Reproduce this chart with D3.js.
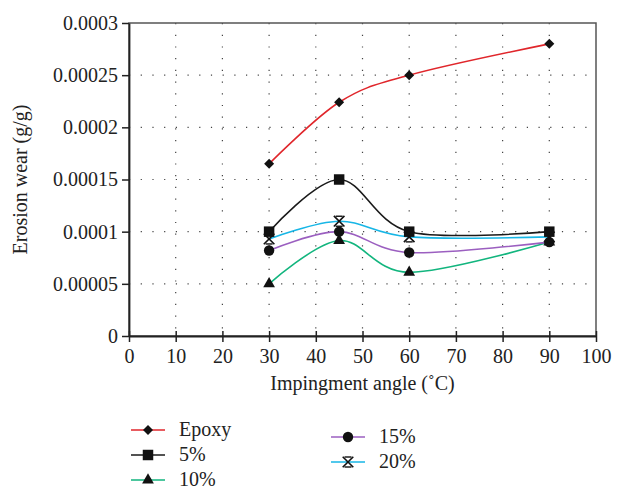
<!DOCTYPE html>
<html>
<head>
<meta charset="utf-8">
<script src="https://cdn.jsdelivr.net/npm/d3@7"></script>
<style>
  body { margin: 0; background: #fff; }
  text { font-family: "Liberation Serif", "Times New Roman", "DejaVu Serif", serif; }
</style>
</head>
<body>
<svg width="617" height="490"></svg>
<script>
// Data
const angles = [30, 45, 60, 90];
const seriesNames = ['Epoxy', '5%', '10%', '15%', '20%'];
const epoxy = [0.000165, 0.000224, 0.00025, 0.00028];
const pct5 = [0.0001, 0.00015, 0.0001, 0.0001];
const pct10 = [0.00005, 0.0000915, 0.000061, 0.00009];
const pct15 = [0.000082, 0.0001, 0.00008, 0.00009];
const pct20 = [0.000093, 0.00011, 0.000095, 0.000095];
const xTicks = [0, 10, 20, 30, 40, 50, 60, 70, 80, 90, 100];
const yTicks = [0, 0.00005, 0.0001, 0.00015, 0.0002, 0.00025, 0.0003];
const yTickLabels = ['0', '0.00005', '0.0001', '0.00015', '0.0002', '0.00025', '0.0003'];

const colors = ['#e0262b', '#1a1a1a', '#12b57e', '#9b5fc0', '#17b6e6'];
const markers = ['diamond', 'square', 'triangle', 'circle', 'star'];
const seriesValues = [epoxy, pct5, pct10, pct15, pct20];

const svg = d3.select('svg');
const margin = { top: 23, right: 21, bottom: 154, left: 129 };
const width = +svg.attr('width');
const height = +svg.attr('height');
const inner_width = width - margin.left - margin.right;
const inner_height = height - margin.top - margin.bottom;
const fontFam = '"Liberation Serif", "Times New Roman", serif';

const x = d3.scaleLinear().domain([0, 100]).range([0, inner_width]);
const y = d3.scaleLinear().domain([0, 0.0003]).range([inner_height, 0]);

const g = svg.append('g').attr('transform', `translate(${margin.left},${margin.top})`);

// Dotted grid
g.append('g').selectAll('line')
    .data(xTicks.slice(1, -1))
    .enter().append('line')
    .attr('x1', d => x(d)).attr('x2', d => x(d))
    .attr('y1', 0).attr('y2', inner_height)
    .attr('stroke', '#444').attr('stroke-width', 1.2)
    .attr('stroke-dasharray', '1.2,10.5');
g.append('g').selectAll('line')
    .data(yTicks.slice(1, -1))
    .enter().append('line')
    .attr('x1', 0).attr('x2', inner_width)
    .attr('y1', d => y(d)).attr('y2', d => y(d))
    .attr('stroke', '#444').attr('stroke-width', 1.2)
    .attr('stroke-dasharray', '1.2,10.5');

// Frame
g.append('rect')
    .attr('x', 0).attr('y', 0)
    .attr('width', inner_width).attr('height', inner_height)
    .attr('fill', 'none').attr('stroke', '#555').attr('stroke-width', 1.5);

// Axes
const xAxis = g.append('g')
    .attr('transform', `translate(0,${inner_height})`)
    .call(d3.axisBottom(x).tickValues(xTicks).tickSize(6).tickSizeOuter(0).tickPadding(7));
xAxis.selectAll('.tick line').attr('y1', -5).attr('stroke', '#222').attr('stroke-width', 1.5);
const yAxis = g.append('g')
    .call(d3.axisLeft(y).tickValues(yTicks).tickFormat((d, i) => yTickLabels[i]).tickSize(7).tickSizeOuter(0).tickPadding(4));
yAxis.selectAll('.tick line').attr('stroke', '#222').attr('stroke-width', 1.5);
[xAxis, yAxis].forEach(a => {
    a.attr('font-family', fontFam);
    a.select('.domain').attr('stroke', '#222').attr('stroke-width', 1.8);
    a.selectAll('text')
        .style('font-size', '20px')
        .attr('fill', '#222');
});

// Axis titles
svg.append('text')
    .attr('x', margin.left + inner_width / 2)
    .attr('y', 390)
    .attr('text-anchor', 'middle')
    .attr('font-size', '20px')
    .attr('fill', '#222')
    .text('Impingment angle (\u02DAC)');
svg.append('text')
    .attr('transform', `translate(27,${margin.top + inner_height / 2}) rotate(-90)`)
    .attr('text-anchor', 'middle')
    .attr('font-size', '20px')
    .attr('fill', '#222')
    .text('Erosion wear (g/g)');

// Marker drawing
const symbolFor = {
    diamond: d3.symbol().type(d3.symbolSquare).size(50),
    square: d3.symbol().type(d3.symbolSquare).size(110),
    triangle: d3.symbol().type(d3.symbolTriangle).size(60),
    circle: d3.symbol().type(d3.symbolCircle).size(85),
    star: d3.symbol().type(d3.symbolTimes).size(75)
};
const drawMarker = (sel, kind, cx, cy) => {
    const p = sel.append('path')
        .attr('d', symbolFor[kind]())
        .attr('transform', `translate(${cx},${cy})` + (kind === 'diamond' ? ' rotate(45)' : ''));
    if (kind === 'star') {
        p.attr('fill', 'none').attr('stroke', '#111').attr('stroke-width', 1.6);
        sel.append('line')
            .attr('x1', cx - 3.5).attr('x2', cx + 3.5)
            .attr('y1', cy - 5).attr('y2', cy - 5)
            .attr('stroke', '#111').attr('stroke-width', 1.4);
        sel.append('line')
            .attr('x1', cx - 3.5).attr('x2', cx + 3.5)
            .attr('y1', cy + 5).attr('y2', cy + 5)
            .attr('stroke', '#111').attr('stroke-width', 1.4);
    } else {
        p.attr('fill', '#111');
    }
};

// Lines
const line = d3.line()
    .x((d, i) => x(angles[i]))
    .y(d => y(d))
    .curve(d3.curveCardinal.tension(0));

const drawOrder = [2, 3, 4, 1, 0];
drawOrder.forEach(s => {
    g.append('path')
        .datum(seriesValues[s])
        .attr('d', line)
        .attr('fill', 'none')
        .attr('stroke', colors[s])
        .attr('stroke-width', 1.6);
});
drawOrder.forEach(s => {
    const mg = g.append('g');
    seriesValues[s].forEach((v, i) => drawMarker(mg, markers[s], x(angles[i]), y(v)));
});

// Legend
const legendPos = [
    { x: 131, y: 430 }, { x: 131, y: 455 }, { x: 131, y: 480 },
    { x: 331, y: 437 }, { x: 331, y: 462 }
];
seriesNames.forEach((name, s) => {
    const lg = svg.append('g');
    const p = legendPos[s];
    lg.append('line')
        .attr('x1', p.x).attr('x2', p.x + 34)
        .attr('y1', p.y).attr('y2', p.y)
        .attr('stroke', colors[s]).attr('stroke-width', 1.6);
    drawMarker(lg, markers[s], p.x + 17, p.y);
    lg.append('text')
        .attr('x', p.x + 48)
        .attr('y', p.y + 6)
        .attr('font-size', '20px')
        .attr('fill', '#222')
        .text(name);
});
</script>
</body>
</html>
